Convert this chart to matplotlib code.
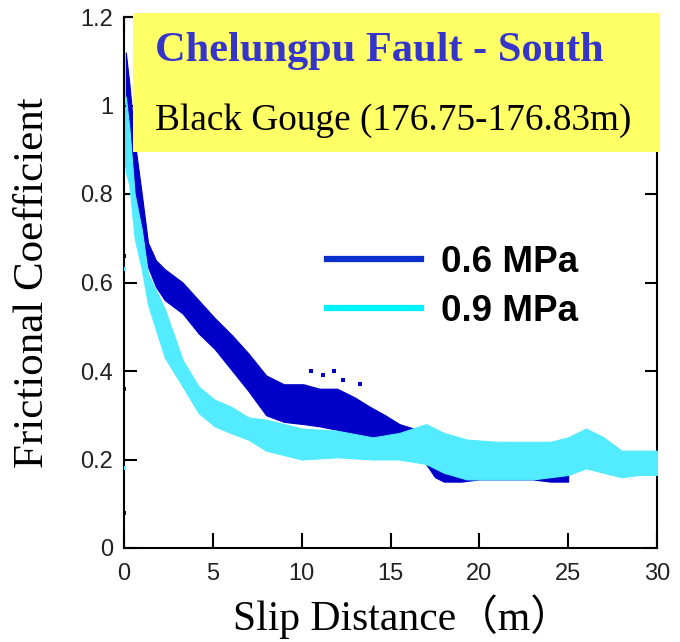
import matplotlib
matplotlib.use("Agg")
import matplotlib.pyplot as plt
from matplotlib.patches import Rectangle

# Friction band envelopes (slip distance in m, lower / upper friction coefficient)
slip_06 = [0.1, 0.3, 0.6, 1.0, 1.35, 1.8, 2.3, 3.3, 4.2, 5.1, 6.1, 7.0, 8.0, 9.0,
           10.1, 11.0, 12.0, 13.0, 13.8, 14.7, 15.5, 16.3, 17.0, 17.5, 18.0, 19.0,
           20.0, 21.0, 22.0, 23.0, 24.0, 25.0]
low_06 = [0.86, 0.86, 0.78, 0.70, 0.635, 0.59, 0.56, 0.53, 0.485, 0.45, 0.40, 0.355,
          0.30, 0.285, 0.28, 0.275, 0.267, 0.255, 0.245, 0.24, 0.245, 0.235, 0.19,
          0.16, 0.15, 0.15, 0.155, 0.155, 0.155, 0.155, 0.15, 0.15]
high_06 = [1.12, 1.05, 0.92, 0.80, 0.69, 0.65, 0.63, 0.60, 0.56, 0.52, 0.48, 0.44,
           0.39, 0.37, 0.37, 0.36, 0.36, 0.34, 0.32, 0.30, 0.28, 0.27, 0.26, 0.22,
           0.20, 0.19, 0.19, 0.19, 0.19, 0.19, 0.19, 0.19]

slip_09 = [0.1, 0.3, 0.6, 1.0, 1.35, 2.3, 3.3, 4.2, 5.1, 6.0, 7.0, 8.0, 10.0, 12.0,
           14.0, 15.5, 17.0, 18.0, 19.3, 21.0, 23.0, 24.0, 25.0, 26.0, 27.0, 28.0,
           29.0, 30.0]
low_09 = [0.85, 0.82, 0.70, 0.63, 0.55, 0.43, 0.365, 0.305, 0.275, 0.26, 0.245, 0.22,
          0.20, 0.205, 0.20, 0.20, 0.19, 0.17, 0.155, 0.155, 0.155, 0.16, 0.165, 0.18,
          0.17, 0.16, 0.165, 0.165]
high_09 = [1.02, 0.95, 0.80, 0.72, 0.62, 0.54, 0.425, 0.365, 0.335, 0.32, 0.295, 0.29,
           0.27, 0.265, 0.25, 0.26, 0.28, 0.26, 0.245, 0.24, 0.24, 0.24, 0.25, 0.27,
           0.25, 0.22, 0.22, 0.22]

# Isolated readings off the main bands
dots_06_x = [0.0, 0.0, 0.0, 10.5, 11.2, 11.8, 12.3, 13.3, 16.8, 17.3]
dots_06_y = [0.08, 0.36, 0.66, 0.40, 0.39, 0.40, 0.38, 0.37, 0.27, 0.25]
dots_09_x = [0.0, 0.0]
dots_09_y = [0.18, 0.63]

labels = ["0.6 MPa", "0.9 MPa"]
x_ticks = [0, 5, 10, 15, 20, 25, 30]
y_ticks = [0, 0.2, 0.4, 0.6, 0.8, 1.0, 1.2]
y_ticklabels = ["0", "0.2", "0.4", "0.6", "0.8", "1", "1.2"]

BLUE = "#0000C8"
CYAN = "#52EBFF"
LEG_BLUE = "#0A2FCC"
LEG_CYAN = "#00F2FF"

fig = plt.figure(figsize=(6.8, 6.42), dpi=100)
ax = fig.add_axes([124 / 680, 1 - 548 / 642, 533 / 680, 531 / 642])

ax.fill_between(slip_06, low_06, high_06, color=BLUE, lw=0.8, edgecolor=BLUE, zorder=2)
ax.scatter(dots_06_x, dots_06_y, s=6, color=BLUE, marker="s", lw=0, zorder=2)
ax.fill_between(slip_09, low_09, high_09, color=CYAN, lw=0.8, edgecolor=CYAN, zorder=3)
ax.scatter(dots_09_x, dots_09_y, s=6, color=CYAN, marker="s", lw=0, zorder=3)

ax.set_xlim(0, 30)
ax.set_ylim(0, 1.2)
ax.set_xticks(x_ticks)
ax.set_xticklabels([str(t) for t in x_ticks])
ax.set_yticks(y_ticks)
ax.set_yticklabels(y_ticklabels)

for lab in ax.get_xticklabels() + ax.get_yticklabels():
    lab.set_fontfamily(["Liberation Sans"])
    lab.set_fontsize(17)
    lab.set_color("#222222")

ax.tick_params(axis="both", direction="in", width=1.5, length=9, right=True, top=True)
ax.tick_params(axis="x", pad=11, length=11)
ax.tick_params(axis="y", pad=8)
for sp in ax.spines.values():
    sp.set_linewidth(1.5)

ax.set_xlabel("Slip Distance（m）", family=["Liberation Serif", "Noto Sans CJK JP"], fontsize=30)
ax.xaxis.set_label_coords(0.522, -0.088)
ax.set_ylabel("Frictional Coefficient", family="Liberation Serif", fontsize=31)
ax.yaxis.set_label_coords(-0.135, 0.5)

leg_handles = [plt.Line2D([], [], color=LEG_BLUE, lw=4.5),
               plt.Line2D([], [], color=LEG_CYAN, lw=4.5)]
ax.legend(leg_handles, labels, loc="center left",
          bbox_to_anchor=(327 / 680, 1 - 287 / 642), bbox_transform=fig.transFigure,
          frameon=False, handlelength=2.55, handletextpad=0.55, labelspacing=0.38,
          borderpad=0, borderaxespad=0,
          prop=dict(family="Liberation Sans", weight="bold", size=26.5))

# Highlighted header box
fig.patches.append(Rectangle((133 / 680, 1 - 152 / 642), 527 / 680, 139 / 642,
                             transform=fig.transFigure, facecolor="#FFFF66",
                             edgecolor="none", zorder=5))
fig.text(155 / 680, 1 - 51 / 642, "Chelungpu Fault - South", family="Liberation Serif",
         weight="bold", fontsize=30.5, color="#3535CC", va="center", ha="left", zorder=6)
fig.text(155 / 680, 1 - 121 / 642, "Black Gouge (176.75-176.83m)", family="Liberation Serif",
         fontsize=26.8, color="black", va="center", ha="left", zorder=6)

fig.savefig("out.png", dpi=100)
